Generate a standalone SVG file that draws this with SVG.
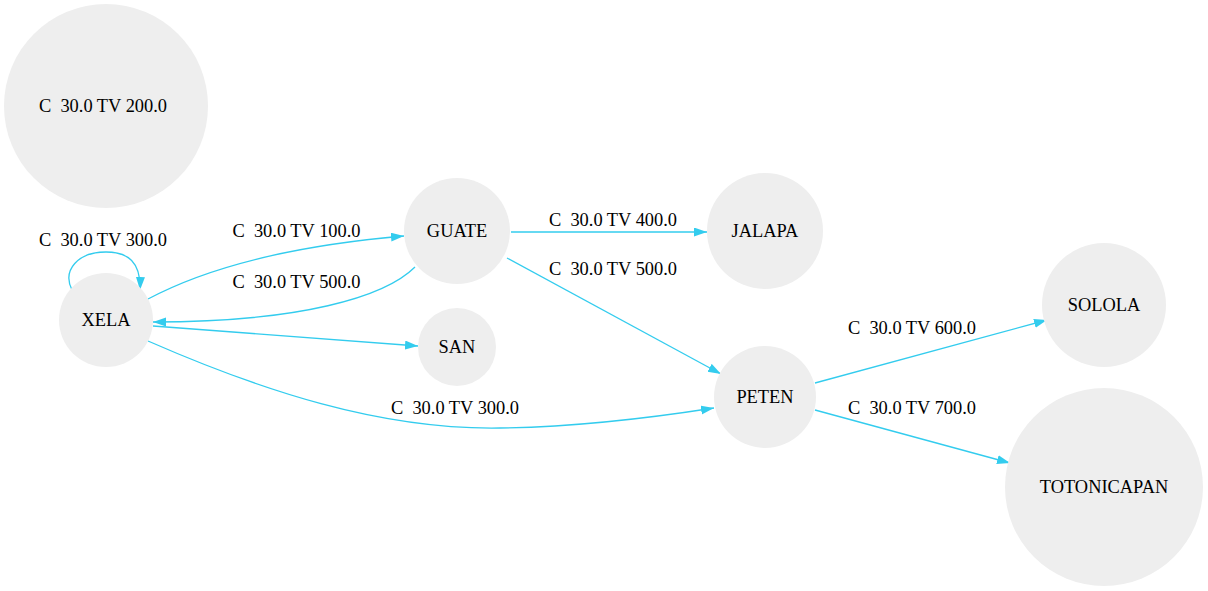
<svg xmlns="http://www.w3.org/2000/svg" width="1208" height="591" viewBox="0 0 1208 591">
<style>
.n{fill:#eeeeee;stroke:none}
.t{font-family:'Liberation Serif',serif;font-size:18.4px;fill:#000;text-anchor:middle;white-space:pre}
.e{fill:none;stroke:#33ccee;stroke-width:1.3;marker-end:url(#ah)}
</style>
<defs>
<marker id="ah" markerUnits="userSpaceOnUse" markerWidth="14" markerHeight="10" refX="13" refY="4.5" orient="auto">
<path d="M0,0 L13,4.5 L0,9 z" fill="#33ccee"/>
</marker>
</defs>
<rect width="1208" height="591" fill="#fff"/>
<g id="edges">
<path class="e" d="M72,290 C62,270 78,252 106,252 C128,252 141,262 140,290"/>
<path class="e" d="M148,299 C210,266 300,245 404,236"/>
<path class="e" d="M415,267 C385,297 300,322 153,322"/>
<path class="e" d="M153,326 L418,346"/>
<path class="e" d="M148,341 C260,390 380,430 500,428 C580,427 650,418 714,408"/>
<path class="e" d="M511,232 L707,232"/>
<path class="e" d="M507,258 L721,374"/>
<path class="e" d="M815,383 L1047,320"/>
<path class="e" d="M815,410 L1010,463"/>
<text class="t" xml:space="preserve" x="103" y="246">C  30.0 TV 300.0</text>
<text class="t" xml:space="preserve" x="296.5" y="237">C  30.0 TV 100.0</text>
<text class="t" xml:space="preserve" x="296.5" y="288">C  30.0 TV 500.0</text>
<text class="t" xml:space="preserve" x="613" y="226">C  30.0 TV 400.0</text>
<text class="t" xml:space="preserve" x="613" y="275">C  30.0 TV 500.0</text>
<text class="t" xml:space="preserve" x="455" y="414">C  30.0 TV 300.0</text>
<text class="t" xml:space="preserve" x="912" y="334">C  30.0 TV 600.0</text>
<text class="t" xml:space="preserve" x="912" y="414">C  30.0 TV 700.0</text>
</g>
<g id="node_200"><circle class="n" cx="106" cy="106" r="102"/><text class="t" xml:space="preserve" x="103" y="112">C  30.0 TV 200.0</text></g>
<g id="XELA"><circle class="n" cx="106" cy="320" r="47"/><text class="t" x="106" y="326">XELA</text></g>
<g id="GUATE"><circle class="n" cx="457" cy="231" r="53"/><text class="t" x="457" y="237">GUATE</text></g>
<g id="SAN"><circle class="n" cx="457" cy="347" r="39"/><text class="t" x="457" y="353">SAN</text></g>
<g id="JALAPA"><circle class="n" cx="765" cy="231" r="58"/><text class="t" x="765" y="237">JALAPA</text></g>
<g id="PETEN"><circle class="n" cx="765" cy="397" r="51"/><text class="t" x="765" y="403">PETEN</text></g>
<g id="SOLOLA"><circle class="n" cx="1104" cy="305" r="62"/><text class="t" x="1104" y="311">SOLOLA</text></g>
<g id="TOTONICAPAN"><circle class="n" cx="1104" cy="487" r="99"/><text class="t" x="1104" y="493">TOTONICAPAN</text></g>
</svg>
